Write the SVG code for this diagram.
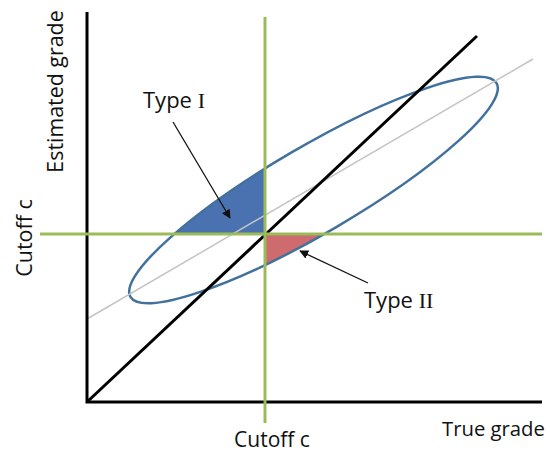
<svg xmlns="http://www.w3.org/2000/svg" width="550" height="452" viewBox="0 0 550 452">
<style>
.lbl{font-family:"Open Sans","Liberation Sans",sans-serif;fill:#111}
.rom{font-family:"Liberation Serif",serif}
.axis{stroke:#000;stroke-width:3;fill:none}
.green{stroke:#9bbb59;stroke-width:3;fill:none}
.arr{stroke:#111;stroke-width:1.3;fill:none;marker-end:url(#ah)}
</style>
<defs>
<marker id="ah" viewBox="0 0 10 10" refX="9" refY="5" markerWidth="9" markerHeight="9" markerUnits="userSpaceOnUse" orient="auto">
<path d="M0,0 L10,5 L0,10 z" fill="#111"/>
</marker>
<clipPath id="c1"><rect x="0" y="0" width="265" height="234"/></clipPath>
<clipPath id="c2"><rect x="265" y="234" width="285" height="218"/></clipPath>
<ellipse id="el" cx="313.5" cy="190" rx="212" ry="43.5" transform="rotate(-30.3 313.5 190)"/>
</defs>
<rect width="550" height="452" fill="#fff"/>
<g id="regions">
<g clip-path="url(#c1)"><use href="#el" fill="#4a72b0"/></g>
<g clip-path="url(#c2)"><use href="#el" fill="#cd6b6f"/></g>
</g>
<g id="ellipse">
<use href="#el" fill="none" stroke="#41719c" stroke-width="2.5"/>
</g>
<g id="regression">
<line x1="87" y1="319" x2="533" y2="59" stroke="#c4c4c4" stroke-width="1.5"/>
</g>
<g id="axes">
<polyline class="axis" points="87,12 87,402 542,402"/>
<line class="axis" x1="87" y1="402" x2="477" y2="36"/>
</g>
<g id="cutoffs">
<line class="green" x1="265" y1="17" x2="265" y2="423"/>
<line class="green" x1="40" y1="234" x2="542" y2="234"/>
</g>
<g id="connectors">
<line class="arr" x1="173" y1="122" x2="230" y2="218"/>
<line class="arr" x1="368" y1="283" x2="300" y2="251"/>
</g>
<g id="labels">
<text class="lbl" font-size="21.4" text-anchor="middle" transform="translate(63 91.5) rotate(-90)">Estimated grade</text>
<text class="lbl" font-size="21.5" text-anchor="middle" transform="translate(32 238) rotate(-90)">Cutoff c</text>
<text class="lbl" font-size="21" text-anchor="middle" x="272" y="447">Cutoff c</text>
<text class="lbl" font-size="20.3" x="442" y="436">True grade</text>
<text class="lbl" font-size="22" x="143" y="108">Type <tspan class="rom">I</tspan></text>
<text class="lbl" font-size="22" x="364" y="308">Type <tspan class="rom">II</tspan></text>
</g>
</svg>
